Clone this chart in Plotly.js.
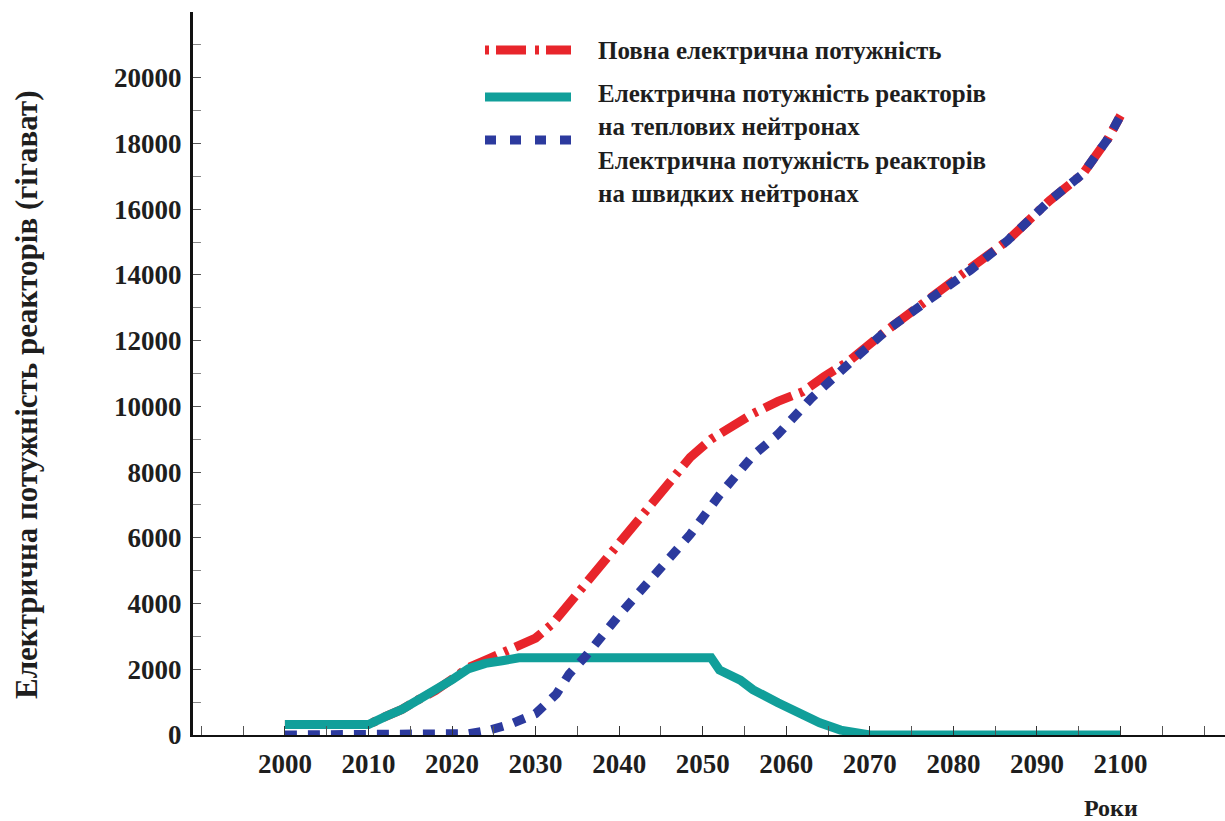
<!DOCTYPE html>
<html>
<head>
<meta charset="utf-8">
<script src="https://cdn.plot.ly/plotly-3.0.1.min.js"></script>
<style>
html,body{margin:0;padding:0;background:#ffffff;}
#chart{width:1225px;height:821px;}
</style>
</head>
<body>
<div id="chart"></div>
<script>
// ---- data ----
const xTickYears = [2000, 2010, 2020, 2030, 2040, 2050, 2060, 2070, 2080, 2090, 2100];
const xTickLabels = ["2000", "2010", "2020", "2030", "2040", "2050", "2060", "2070", "2080", "2090", "2100"];
const yTickValues = [0, 2000, 4000, 6000, 8000, 10000, 12000, 14000, 16000, 18000, 20000];
const yTickLabels = ["0", "2000", "4000", "6000", "8000", "10000", "12000", "14000", "16000", "18000", "20000"];

// Total electric power (red dash-dot)
const totalYears = [2000, 2010, 2012, 2014, 2016, 2018, 2020, 2022, 2024.5, 2027, 2030, 2032, 2034, 2037.5, 2041, 2045, 2048.5, 2051, 2053.5, 2056, 2059, 2062, 2064.5, 2067.5, 2072, 2077, 2082, 2086.5, 2091.5, 2095.5, 2098.5, 2100];
const totalPower = [320, 320, 560, 780, 1080, 1350, 1700, 2060, 2330, 2620, 2950, 3380, 4000, 5050, 6180, 7400, 8450, 9000, 9380, 9780, 10150, 10450, 10900, 11380, 12310, 13230, 14140, 15050, 16260, 17080, 18150, 18850];

// Thermal-neutron reactors (teal solid)
const thermalYears = [2000, 2010, 2012, 2014, 2016, 2018, 2020, 2022, 2024, 2026, 2028, 2051, 2052, 2054.5, 2056, 2059, 2061.5, 2064, 2066.5, 2069, 2070, 2100];
const thermalPower = [320, 320, 560, 780, 1080, 1350, 1680, 2020, 2180, 2260, 2350, 2350, 1980, 1670, 1380, 980, 680, 370, 150, 20, 0, 0];

// Fast-neutron reactors (blue dashed)
const fastYears = [2000, 2020, 2022, 2024.5, 2027, 2030, 2032.5, 2034, 2036, 2040, 2044.5, 2048.5, 2052, 2056, 2059, 2063, 2067.5, 2072, 2077, 2082, 2086.5, 2091.5, 2095.5, 2098.5, 2100];
const fastPower = [0, 0, 40, 150, 330, 650, 1250, 1850, 2400, 3650, 4900, 6100, 7300, 8500, 9150, 10250, 11300, 12310, 13230, 14140, 15050, 16260, 17080, 18150, 18850];

const legendNames = [
  "Повна електрична потужність",
  "Електрична потужність реакторів<br>на теплових нейтронах",
  "Електрична потужність реакторів<br>на швидких нейтронах"
];
const yTitle = "Електрична потужність реакторів (гігават)";
const xTitle = "Роки";

// ---- styles ----
const RED = "#e8252b", TEAL = "#119f9a", BLUE = "#2c3a9e";
const FONT = "Liberation Serif, Times New Roman, serif";
const TXT = "#1e1e1e";

const traces = [
  {x: totalYears, y: totalPower, name: legendNames[0], type: "scatter", mode: "lines",
   line: {color: RED, width: 9, dash: "30px,8px,4px,8px"}},
  {x: thermalYears, y: thermalPower, name: legendNames[1], type: "scatter", mode: "lines",
   line: {color: TEAL, width: 9}},
  {x: fastYears, y: fastPower, name: legendNames[2], type: "scatter", mode: "lines",
   line: {color: BLUE, width: 9, dash: "12px,11px"}}
];

// manual legend (samples + text lines), positions in paper fraction
const W = 1032, H = 723; // plot area size in px
const px = v => (v - 193) / W;
const py = v => (735 - v) / H;

const legendShapes = [
  {type: "line", xref: "paper", yref: "paper", x0: px(485), x1: px(571), y0: py(50), y1: py(50),
   line: {color: RED, width: 9, dash: "4px,7px,30px,9px"}},
  {type: "line", xref: "paper", yref: "paper", x0: px(485), x1: px(571), y0: py(97), y1: py(97),
   line: {color: TEAL, width: 9}},
  {type: "line", xref: "paper", yref: "paper", x0: px(485), x1: px(571), y0: py(140), y1: py(140),
   line: {color: BLUE, width: 9, dash: "11px,14px"}}
];

const legendLines = [
  [legendNames[0], 50],
  [legendNames[1].split("<br>")[0], 93],
  [legendNames[1].split("<br>")[1], 127],
  [legendNames[2].split("<br>")[0], 160],
  [legendNames[2].split("<br>")[1], 193]
];
const annotations = legendLines.map(([t, yy]) => ({
  text: t, xref: "paper", yref: "paper", x: px(596), y: py(yy),
  xanchor: "left", yanchor: "middle", showarrow: false,
  font: {family: FONT, size: 25, color: TXT, weight: "bold"}
}));
annotations.push({
  text: xTitle, xref: "paper", yref: "paper", x: px(1111), y: py(808),
  xanchor: "center", yanchor: "middle", showarrow: false,
  font: {family: FONT, size: 24, color: TXT, weight: "bold"}
});
annotations.push({
  text: yTitle, xref: "paper", yref: "paper", x: px(26), y: py(395),
  xanchor: "center", yanchor: "middle", textangle: -90, showarrow: false,
  font: {family: FONT, size: 31, color: TXT, weight: "bold"}
});

const layout = {
  width: 1225, height: 821,
  margin: {l: 193, r: 0, t: 12, b: 86},
  paper_bgcolor: "#ffffff", plot_bgcolor: "#ffffff",
  showlegend: false,
  font: {family: FONT, color: TXT},
  xaxis: {
    range: [1989, 2112.5],
    tickmode: "array", tickvals: xTickYears, ticktext: xTickLabels,
    showgrid: false, zeroline: false,
    showline: true, linecolor: "#111", linewidth: 2,
    ticks: "inside", ticklen: 9, tickcolor: "#333", tickwidth: 1,
    minor: {dtick: 5, ticks: "inside", ticklen: 9, tickcolor: "#555", tickwidth: 1, showgrid: false},
    ticklabelstandoff: 4,
    tickfont: {family: FONT, size: 27, color: TXT, weight: "bold"}
  },
  yaxis: {
    range: [0, 22000],
    tickmode: "array", tickvals: yTickValues, ticktext: yTickLabels,
    showgrid: false, zeroline: false,
    showline: true, linecolor: "#111", linewidth: 3,
    ticks: "inside", ticklen: 8, tickcolor: "#555", tickwidth: 1,
    minor: {dtick: 1000, ticks: "inside", ticklen: 8, tickcolor: "#888", tickwidth: 1, showgrid: false},
    ticklabelstandoff: 3,
    tickfont: {family: FONT, size: 27, color: TXT, weight: "bold"}
  },
  shapes: legendShapes,
  annotations: annotations
};

Plotly.newPlot("chart", traces, layout, {displayModeBar: false, staticPlot: true});
</script>
</body>
</html>
